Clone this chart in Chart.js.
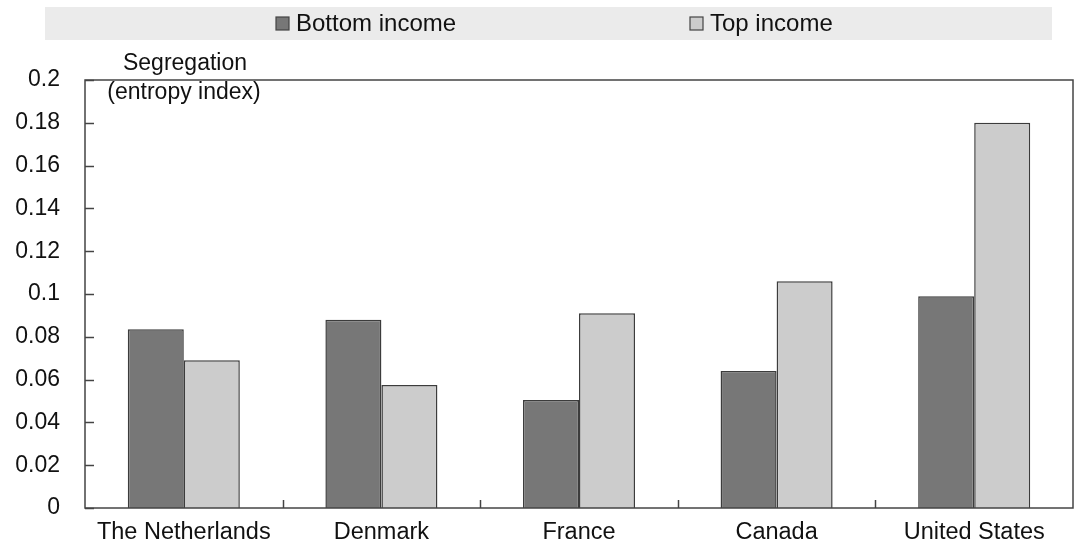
<!DOCTYPE html>
<html>
<head>
<meta charset="utf-8">
<script src="https://cdn.jsdelivr.net/npm/chart.js@4.4.1/dist/chart.umd.min.js"></script>
<style>
  html, body { margin: 0; padding: 0; background: #ffffff; }
  #wrap { width: 1078px; height: 551px; position: relative; }
</style>
</head>
<body>
<div id="wrap"><canvas id="segChart" width="1078" height="551"></canvas></div>
<script>
// data
var countries = ['The Netherlands', 'Denmark', 'France', 'Canada', 'United States'];
var bottomIncome = [0.0835, 0.088, 0.0505, 0.064, 0.099];
var topIncome = [0.069, 0.0575, 0.091, 0.106, 0.18];
var yTickLabels = ['0', '0.02', '0.04', '0.06', '0.08', '0.1', '0.12', '0.14', '0.16', '0.18', '0.2'];
var axisTitle = ['Segregation', '(entropy index)'];

var FONT = '"Liberation Sans", Arial, sans-serif';
var INK = '#111111';
var FRAME = '#444444';

// grey legend strip, axis title, frame and inward ticks
var decorPlugin = {
  id: 'decor',
  beforeDraw: function(chart) {
    var ctx = chart.ctx;
    ctx.save();
    ctx.fillStyle = '#ffffff';
    ctx.fillRect(0, 0, chart.width, chart.height);
    ctx.restore();
  },
  afterDraw: function(chart) {
    var ctx = chart.ctx;
    var area = chart.chartArea;
    var ys = chart.scales.y, xs = chart.scales.x;
    ctx.save();

    // legend strip
    ctx.fillStyle = '#ebebeb';
    ctx.fillRect(45, 7, 1007, 33);
    ctx.font = '24px ' + FONT;
    ctx.textBaseline = 'middle';
    var items = [
      { ds: chart.data.datasets[0], x: 276 },
      { ds: chart.data.datasets[1], x: 690 }
    ];
    items.forEach(function(it) {
      ctx.fillStyle = it.ds.backgroundColor;
      ctx.strokeStyle = FRAME;
      ctx.lineWidth = 1.2;
      ctx.fillRect(it.x, 17, 13, 13);
      ctx.strokeRect(it.x, 17, 13, 13);
      ctx.fillStyle = INK;
      ctx.textAlign = 'left';
      ctx.fillText(it.ds.label, it.x + 20, 24);
    });

    // axis title inside the plot
    ctx.font = '23px ' + FONT;
    ctx.textAlign = 'center';
    ctx.fillText(axisTitle[0], 185, 64);
    ctx.fillText(axisTitle[1], 184, 93);

    // frame
    ctx.strokeStyle = FRAME;
    ctx.lineWidth = 1.5;
    ctx.strokeRect(area.left, area.top, area.right - area.left, area.bottom - area.top);

    // y ticks pointing inward
    ctx.lineWidth = 1.5;
    ys.ticks.forEach(function(t) {
      var py = Math.round(ys.getPixelForValue(t.value)) + 0.5;
      ctx.beginPath();
      ctx.moveTo(area.left, py);
      ctx.lineTo(area.left + 9, py);
      ctx.stroke();
    });
    // category separators at the bottom
    for (var i = 0; i < countries.length - 1; i++) {
      var px = Math.round((xs.getPixelForValue(i) + xs.getPixelForValue(i + 1)) / 2) + 0.5;
      ctx.beginPath();
      ctx.moveTo(px, area.bottom);
      ctx.lineTo(px, area.bottom - 8);
      ctx.stroke();
    }
    ctx.restore();
  }
};

var ctx = document.getElementById('segChart').getContext('2d');
var segChart = new Chart(ctx, {
  type: 'bar',
  data: {
    labels: countries,
    datasets: [{
      label: 'Bottom income',
      data: bottomIncome,
      backgroundColor: '#777777',
      borderColor: '#3c3c3c',
      borderWidth: 1.5,
      borderSkipped: 'bottom',
      categoryPercentage: 0.567,
      barPercentage: 1.0
    }, {
      label: 'Top income',
      data: topIncome,
      backgroundColor: '#cccccc',
      borderColor: '#3c3c3c',
      borderWidth: 1.5,
      borderSkipped: 'bottom',
      categoryPercentage: 0.567,
      barPercentage: 1.0
    }]
  },
  options: {
    responsive: false,
    animation: false,
    devicePixelRatio: 1,
    layout: { padding: { top: 80, right: 5, left: 0, bottom: 0 } },
    plugins: {
      legend: { display: false },
      tooltip: { enabled: false }
    },
    scales: {
      x: {
        grid: { display: false, drawTicks: false },
        border: { display: false },
        ticks: {
          color: INK,
          font: { family: FONT, size: 23.5 },
          padding: 10,
          maxRotation: 0,
          autoSkip: false
        },
        afterFit: function(scale) { scale.height = 43; }
      },
      y: {
        min: 0,
        max: 0.2,
        grid: { display: false, drawTicks: false },
        border: { display: false },
        ticks: {
          stepSize: 0.02,
          color: INK,
          font: { family: FONT, size: 23 },
          padding: 25,
          callback: function(value, index) { return yTickLabels[index]; }
        },
        afterFit: function(scale) { scale.width = 85; }
      }
    }
  },
  plugins: [decorPlugin]
});
</script>
</body>
</html>
